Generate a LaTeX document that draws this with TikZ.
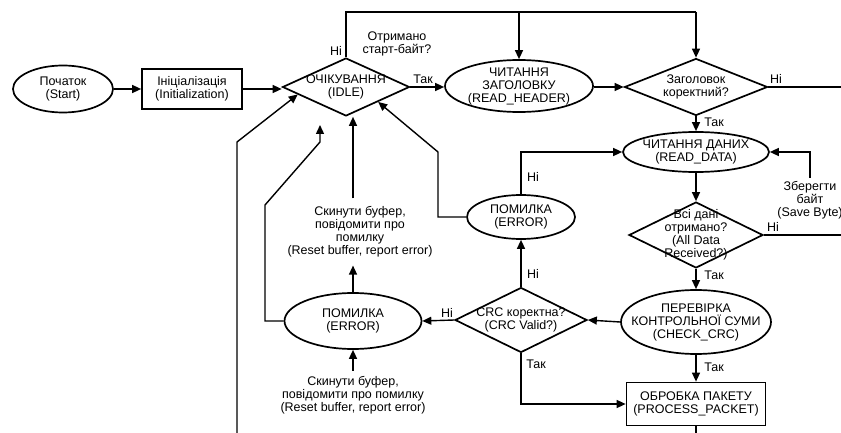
\documentclass[tikz,border=0pt]{standalone}
\usepackage{fontspec}
\setmainfont{Liberation Sans}
\usetikzlibrary{arrows.meta,shapes.geometric,calc}
\begin{document}
\begin{tikzpicture}[x=1pt,y=-1pt,
  every node/.style={font=\fontsize{12.5}{13}\selectfont, align=center},
  shapeline/.style={draw, line width=1.7pt, inner sep=0pt},
  term/.style={shapeline, ellipse},
  decision/.style={shapeline, diamond},
  proc/.style={shapeline, rectangle},
  txt/.style={inner sep=0pt},
  tag/.style={inner sep=1pt},
  note/.style={inner xsep=1pt},
  conn/.style={line width=1.4pt},
  arr/.style={conn, -{Triangle[length=9pt,width=8pt]}}
]
\useasboundingbox (0,0) rectangle (841,433);

% ---- states and decisions ----
\node[term, minimum width=100pt, minimum height=47pt,
      label={[txt]center:{Початок\\(Start)}}] (start) at (63,89) {};
\node[proc, minimum width=100pt, minimum height=40pt] (init) at (192,89)
      {Ініціалізація\\(Initialization)};
\node[decision, minimum width=127pt, minimum height=58pt,
      label={[txt]center:{ОЧІКУВАННЯ\\(IDLE)}}] (idle) at (346,87) {};
\node[term, minimum width=148pt, minimum height=52pt,
      label={[txt]center:{ЧИТАННЯ\\ЗАГОЛОВКУ\\(READ\_HEADER)}}] (rh) at (519,86) {};
\node[decision, minimum width=143pt, minimum height=57pt,
      label={[txt]center:{Заголовок\\коректний?}}] (hdr) at (696,87) {};
\node[term, minimum width=146pt, minimum height=40pt,
      label={[txt]center:{ЧИТАННЯ ДАНИХ\\(READ\_DATA)}}] (rd) at (696,152) {};
\node[decision, minimum width=134pt, minimum height=66pt,
      label={[txt]center:{Всі дані\\отримано?\\(All Data\\Received?)}}] (alld) at (696,235) {};
\node[term, minimum width=108pt, minimum height=44pt,
      label={[txt]center:{ПОМИЛКА\\(ERROR)}}] (err1) at (521,217) {};
\node[decision, minimum width=132pt, minimum height=65pt,
      label={[txt]center:{CRC коректна?\\(CRC Valid?)}}] (crc) at (521,320) {};
\node[term, minimum width=150pt, minimum height=64pt,
      label={[txt]center:{ПЕРЕВІРКА\\КОНТРОЛЬНОЇ СУМИ\\(CHECK\_CRC)}}] (ck) at (696,322) {};
\node[proc, minimum width=139pt, minimum height=43pt] (pp) at (696,404)
      {ОБРОБКА ПАКЕТУ\\(PROCESS\_PACKET)};
\node[term, minimum width=137pt, minimum height=56pt,
      label={[txt]center:{ПОМИЛКА\\(ERROR)}}] (err2) at (353,321) {};

% ---- action notes ----
\node[note, inner ysep=8pt] (lbl1) at (360,232)
      {Скинути буфер,\\повідомити про\\помилку\\(Reset buffer, report error)};
\node[note, inner ysep=5pt] (lbl2) at (353,395)
      {Скинути буфер,\\повідомити про помилку\\(Reset buffer, report error)};
\node[note, inner ysep=3pt] (save) at (810,200) {Зберегти\\байт\\(Save Byte)};

% ---- free ends and bends ----
\coordinate (topL) at (346,12);
\coordinate (topR) at (696,12);
\coordinate (hdrOut) at (841,87);
\coordinate (alldOut) at (841,235);
\coordinate (ppOut) at (696,433);
\coordinate (leftIn) at (237,433);
\coordinate (idleGap) at (320,125);

% ---- main line ----
\draw[arr] (start) -- (init);
\draw[arr] (init.east) -- (init.east -| idle.west);
\draw[arr] (idle.east) -- (idle.east -| rh.west);
\draw[arr] (rh.east |- hdr.west) -- (hdr.west);
\draw[conn] (hdr.east) -- (hdrOut);

% loop over the top
\draw[conn] (idle.north) -- (topL) -- (topR);
\draw[arr] (rh.north |- topL) -- (rh.north);
\draw[arr] (topR) -- (hdr.north);

% data column
\draw[arr] (hdr.south) -- (rd.north);
\draw[arr] (rd.south) -- (alld.north);
\draw[conn] (alld.east) -- (alldOut);
\draw[arr] (save.north) |- (rd.east);
\draw[arr] (alld.south) -- (ck.north);
\draw[arr] (ck.south) -- (pp.north);
\draw[conn] (pp.south) -- (ppOut);

% CRC branch
\draw[arr] (ck.west) -- (crc.east);
\draw[arr] (crc.south) |- (pp.west);
\draw[arr] (crc.north) -- (err1.south);
\draw[arr] (crc.west) -- (err2.east);
\draw[arr] (err1.north) |- (rd.west);
\draw[arr] (err1.west) -- (438,217) -- (438,152) -- (idle.south east);

% error handling back to idle
\draw[arr] (err2.north) -- (err2.north |- lbl1.south);
\draw[arr] (err2.north |- lbl1.north) -- (err2.north |- idle.south);
\draw[arr] (lbl2.north) -- (err2.south);
\draw[arr] (err2.west) -- (265,321) -- (265,205) -- (320,142) -- (idleGap);
\draw[arr] (leftIn) -- (237,142) -- ($(idle.west)!0.25!(idle.south)$);

% ---- branch tags ----
\node[tag] (t1) at (336,51) {Ні};
\node[tag] (t2) at (397,44) {Отримано\\старт-байт?};
\node[tag] (t3) at (423,79) {Так};
\node[tag] (t4) at (776,79) {Ні};
\node[tag] (t5) at (714,122) {Так};
\node[tag] (t6) at (533,177) {Ні};
\node[tag] (t7) at (773,227) {Ні};
\node[tag] (t8) at (714,275) {Так};
\node[tag] (t9) at (533,274) {Ні};
\node[tag] (t10) at (447,313) {Ні};
\node[tag] (t11) at (536,364) {Так};
\node[tag] (t12) at (714,367) {Так};
\end{tikzpicture}
\end{document}
